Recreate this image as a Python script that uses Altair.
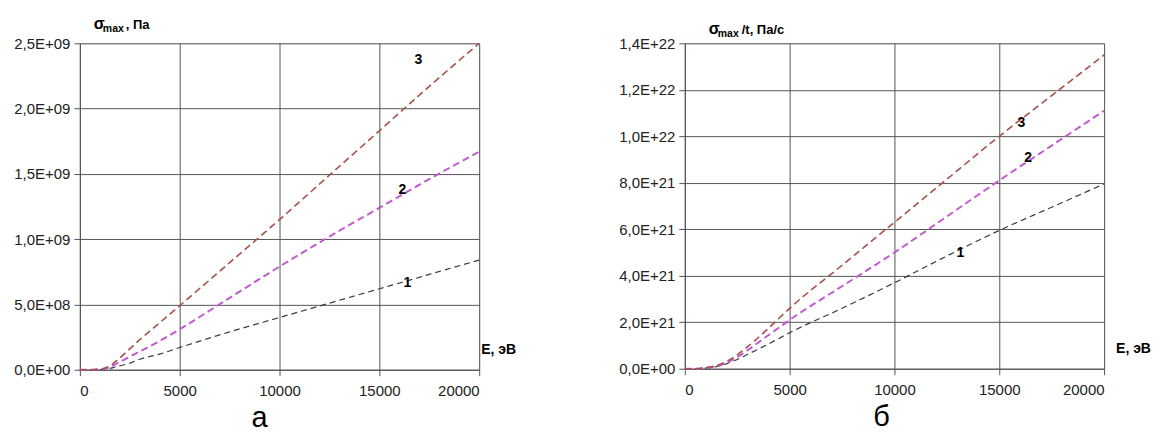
import altair as alt
import pandas as pd

FONT = "Liberation Sans"

# ---- data ----
E = [0, 500, 1000, 1500, 2000, 2500, 3000, 4000, 5000, 7500, 10000, 12500, 15000, 17500, 20000]

# panel a: sigma_max, Pa (x1e9)
a1 = [0, 0, 0.002, 0.01, 0.03, 0.05, 0.08, 0.12, 0.17, 0.29, 0.40, 0.51, 0.62, 0.73, 0.84]
a2 = [0, 0, 0.003, 0.02, 0.06, 0.10, 0.14, 0.22, 0.31, 0.55, 0.79, 1.02, 1.24, 1.46, 1.67]
a3 = [0, 0, 0.004, 0.03, 0.09, 0.16, 0.23, 0.36, 0.49, 0.82, 1.15, 1.49, 1.83, 2.17, 2.50]

# panel b: sigma_max/t, Pa/s (x1e21)
b1 = [0, 0, 0.03, 0.09, 0.22, 0.40, 0.62, 1.07, 1.55, 2.60, 3.70, 4.85, 5.95, 6.95, 7.95]
b2 = [0, 0, 0.04, 0.11, 0.26, 0.50, 0.80, 1.45, 2.10, 3.55, 5.00, 6.55, 8.10, 9.60, 11.10]
b3 = [0, 0, 0.05, 0.13, 0.32, 0.60, 0.95, 1.75, 2.60, 4.45, 6.30, 8.15, 10.00, 11.75, 13.50]

x_ticks = [0, 5000, 10000, 15000, 20000]
ya_ticks = [0, 5e8, 1e9, 1.5e9, 2e9, 2.5e9]
ya_labels = ["0,0E+00", "5,0E+08", "1,0E+09", "1,5E+09", "2,0E+09", "2,5E+09"]
yb_ticks = [0, 2e21, 4e21, 6e21, 8e21, 1e22, 1.2e22, 1.4e22]
yb_labels = ["0,0E+00", "2,0E+21", "4,0E+21", "6,0E+21", "8,0E+21", "1,0E+22", "1,2E+22", "1,4E+22"]

# curve labels (number, E, value)
a_lab_n = ["3", "2", "1"]
a_lab_x = [16950, 16150, 16400]
a_lab_y = [2.37e9, 1.376e9, 0.665e9]
b_lab_n = ["3", "2", "1"]
b_lab_x = [16050, 16380, 13140]
b_lab_y = [10.56e21, 9.06e21, 4.98e21]

styles = {
    "1": dict(color="#3a3a4a", dash=[6, 4], width=1.2),
    "2": dict(color="#c25bcf", dash=[7, 4], width=2.0),
    "3": dict(color="#a8514a", dash=[7, 4], width=1.6),
}


def label_expr(step, labels):
    arr = "[" + ",".join("'%s'" % l for l in labels) + "]"
    return "%s[round(datum.value/%r)]" % (arr, step)


def panel(series, scale, yticks, ylabels, step, labs, W, H,
          title_parts, ex_x, letter, letter_x):
    xs = alt.X("E:Q", scale=alt.Scale(domain=[0, 20000], nice=False),
               axis=alt.Axis(values=x_ticks, title=None, grid=True,
                             gridColor="#555", domainColor="#555", tickColor="#555",
                             tickSize=6, labelFont=FONT, labelFontSize=15,
                             labelColor="#222", labelPadding=8, format="d"))
    ys = alt.Y("v:Q", scale=alt.Scale(domain=[0, yticks[-1]], nice=False),
               axis=alt.Axis(values=yticks, title=None, grid=True,
                             gridColor="#555", domainColor="#555", tickColor="#555",
                             tickSize=6, labelFont=FONT, labelFontSize=15,
                             labelColor="#222", labelPadding=4,
                             labelExpr=label_expr(step, ylabels)))
    layers = []
    for name, vals in series:
        st = styles[name]
        df = pd.DataFrame({"E": E, "v": [v * scale for v in vals]})
        layers.append(alt.Chart(df).mark_line(color=st["color"], strokeDash=st["dash"],
                                              strokeWidth=st["width"],
                                              interpolate="monotone").encode(x=xs, y=ys))
    ldf = pd.DataFrame({"n": labs[0], "E": labs[1], "v": labs[2]})
    layers.append(alt.Chart(ldf).mark_text(font=FONT, fontSize=14, fontWeight="bold",
                                           color="#000").encode(
        x=alt.X("E:Q"), y=alt.Y("v:Q"), text="n:N"))
    # y title pieces
    for txt, px, py, fs in title_parts:
        layers.append(alt.Chart(pd.DataFrame({"t": [txt]})).mark_text(
            font=FONT, fontSize=fs, fontWeight="bold", align="left",
            baseline="alphabetic", color="#000").encode(
            x=alt.value(px), y=alt.value(py), text="t:N"))
    # x title
    layers.append(alt.Chart(pd.DataFrame({"t": ["E, эВ"]})).mark_text(
        font=FONT, fontSize=14, fontWeight="bold", align="left",
        baseline="alphabetic", color="#000").encode(
        x=alt.value(ex_x), y=alt.value(H - 16), text="t:N"))
    # panel letter
    layers.append(alt.Chart(pd.DataFrame({"t": [letter]})).mark_text(
        font=FONT, fontSize=29, align="center", baseline="alphabetic",
        color="#000").encode(x=alt.value(letter_x), y=alt.value(H + 57), text="t:N"))
    return alt.layer(*layers).properties(width=W, height=H)


left = panel([("1", a1), ("2", a2), ("3", a3)], 1e9, ya_ticks, ya_labels, 5e8,
             (a_lab_n, a_lab_x, a_lab_y), 400, 327,
             [("σ", 14, -14, 16), ("max", 23, -11, 10.5), (", Па", 46, -14, 13)],
             402, "а", 180)
right = panel([("1", b1), ("2", b2), ("3", b3)], 1e21, yb_ticks, yb_labels, 2e21,
              (b_lab_n, b_lab_x, b_lab_y), 420, 326,
              [("σ", 24, -9, 16), ("max", 33, -6, 10.5), ("/t, Па/с", 57, -9, 13)],
              432, "б", 197)

chart = alt.hconcat(left, right, spacing=206, bounds="flush").properties(
    padding={"left": 5, "top": 7, "right": 0, "bottom": 0}
).configure_view(stroke=None).configure(background="white")

chart.save("out.html", embed_options={"renderer": "svg", "actions": False})
